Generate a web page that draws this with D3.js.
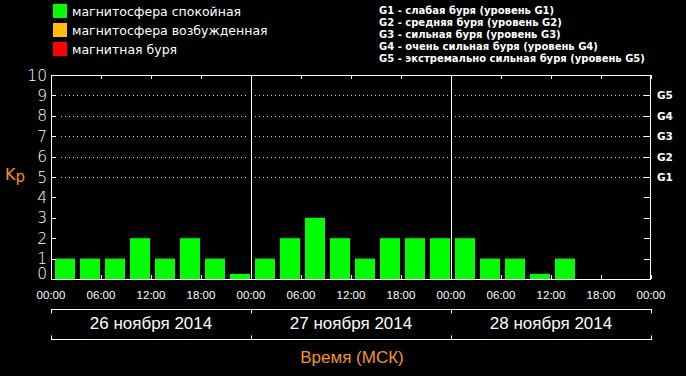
<!DOCTYPE html>
<html><head><meta charset="utf-8">
<script src="https://cdn.jsdelivr.net/npm/d3@7"></script>
<style>
html,body{margin:0;padding:0;background:#000;}
svg{display:block;}
</style></head>
<body>
<svg id="c" width="686" height="376"></svg>
<script>
// ---- data ----
const days = ["26 ноября 2014", "27 ноября 2014", "28 ноября 2014"];
const kpDay1 = [1, 1, 1, 2, 1, 2, 1, 0.25];
const kpDay2 = [1, 2, 3, 2, 1, 2, 2, 2];
const kpDay3 = [2, 1, 1, 0.25, 1];
const hourTicks = ["00:00","06:00","12:00","18:00","00:00","06:00","12:00","18:00","00:00","06:00","12:00","18:00","00:00"];
const yTicks = [0,1,2,3,4,5,6,7,8,9,10];
const gLevels = ["G1","G2","G3","G4","G5"];
const gLevelValues = [5,6,7,8,9];
const legendItems = ["магнитосфера спокойная","магнитосфера возбужденная","магнитная буря"];
const legendColors = ["#00ff00","#ffbf00","#ff0000"];
const gLegend = [
  "G1 - слабая буря (уровень G1)",
  "G2 - средняя буря (уровень G2)",
  "G3 - сильная буря (уровень G3)",
  "G4 - очень сильная буря (уровень G4)",
  "G5 - экстремально сильная буря (уровень G5)"
];

const kp = [...kpDay1, ...kpDay2, ...kpDay3];
const svg = d3.select("#c");
const L = 51, R = 651, T = 75, B = 279;
const x = d3.scaleLinear().domain([0, 72]).range([L, R]);
const y = d3.scaleLinear().domain([0, 10]).range([B, T]);
const orange = "#f7941d";

// legend
const lg = svg.append("g");
legendItems.forEach((t, i) => {
  lg.append("rect").attr("x", 53).attr("y", 4 + i * 19).attr("width", 14).attr("height", 14).attr("fill", legendColors[i]);
  lg.append("text").attr("x", 72).attr("y", 16 + i * 19).attr("fill", "#fff")
    .attr("font-family", "DejaVu Sans").attr("font-size", 12.5).text(t);
});
gLegend.forEach((t, i) => {
  svg.append("text").attr("x", 379).attr("y", 14 + i * 12).attr("fill", "#fff")
    .attr("font-family", "DejaVu Sans").attr("font-weight", "bold").attr("font-size", 10).text(t);
});

// gridlines (dotted), broken around separators
const seps = [24, 48];
const segs = [[L + 10, x(24) - 3], [x(24) + 4, x(48) - 3], [x(48) + 4, R]];
gLevelValues.forEach(v => {
  segs.forEach(s => {
    svg.append("line").attr("x1", s[0]).attr("x2", s[1]).attr("y1", Math.round(y(v)) + 0.5).attr("y2", Math.round(y(v)) + 0.5)
      .attr("stroke", "#ccc").attr("stroke-width", 1).attr("stroke-dasharray", "1,3");
  });
});

// bars
svg.append("g").selectAll("rect").data(kp).join("rect")
  .attr("x", (d, i) => x(i * 3) + 4)
  .attr("width", (d, i) => x(i * 3 + 3) - x(i * 3) - 5)
  .attr("y", d => y(d))
  .attr("height", d => y(0) - y(d))
  .attr("fill", "#00ff00");

// frame
svg.append("rect").attr("x", L + 0.5).attr("y", T + 0.5).attr("width", R - L - 1).attr("height", B - T)
  .attr("fill", "none").attr("stroke", "#fff").attr("stroke-width", 1);
seps.forEach(h => {
  svg.append("line").attr("x1", Math.round(x(h)) + 0.5).attr("x2", Math.round(x(h)) + 0.5).attr("y1", T).attr("y2", B)
    .attr("stroke", "#fff");
});

// top & bottom ticks
d3.range(0, 73, 6).forEach(h => {
  const xx = Math.round(x(h)) + 0.5;
  svg.append("line").attr("x1", xx).attr("x2", xx).attr("y1", T).attr("y2", T + 4).attr("stroke", "#fff");
  svg.append("line").attr("x1", xx).attr("x2", xx).attr("y1", B).attr("y2", B - 4).attr("stroke", "#fff");
});
// left & right ticks
d3.range(1, 10).forEach(v => {
  const yy = Math.round(y(v)) + 0.5;
  svg.append("line").attr("x1", R - 7).attr("x2", R).attr("y1", yy).attr("y2", yy).attr("stroke", "#fff");
  svg.append("line").attr("x1", L).attr("x2", L + 5).attr("y1", yy).attr("y2", yy).attr("stroke", "#fff");
});

// y tick labels
yTicks.forEach(v => {
  svg.append("text").attr("x", 47).attr("y", Math.min(y(v), B - 6)).attr("dy", "0.36em")
    .attr("text-anchor", "end").attr("fill", "#fff")
    .attr("font-family", "DejaVu Sans").attr("font-weight", 300).attr("font-size", 15.5).text(v);
});
// G labels
gLevels.forEach((g, i) => {
  svg.append("text").attr("x", 657).attr("y", y(gLevelValues[i])).attr("dy", "0.38em").attr("fill", "#fff")
    .attr("font-family", "DejaVu Sans").attr("font-weight", "bold").attr("font-size", 10.5).text(g);
});

// Kp label
const kt = svg.append("text").attr("x", 5).attr("y", 180).attr("fill", orange)
  .attr("font-family", "DejaVu Sans").attr("font-size", 16);
kt.append("tspan").text("K");
kt.append("tspan").attr("font-size", 15).attr("dy", 2).text("p");

// bottom hour labels
const hx = d3.scaleLinear().domain([0, hourTicks.length - 1]).range([L, R]);
hourTicks.forEach((t, i) => {
  svg.append("text").attr("x", hx(i)).attr("y", 299).attr("text-anchor", "middle").attr("fill", "#fff")
    .attr("font-family", "Liberation Sans Narrow, Liberation Sans").attr("font-stretch", "condensed")
    .attr("font-size", 11.5).text(t);
});

// day brackets
[309.5, 339.5].forEach((yy, k) => {
  svg.append("line").attr("x1", L).attr("x2", R + 1).attr("y1", yy).attr("y2", yy).attr("stroke", "#fff");
  [0, 24, 48, 72].forEach(h => {
    const xx = Math.round(x(h)) + 0.5;
    svg.append("line").attr("x1", xx).attr("x2", xx).attr("y1", yy).attr("y2", k === 0 ? yy + 4 : yy - 4).attr("stroke", "#fff");
  });
});
days.forEach((d, i) => {
  svg.append("text").attr("x", x(i * 24 + 12)).attr("y", 329).attr("text-anchor", "middle").attr("fill", "#fff")
    .attr("font-family", "Liberation Sans Narrow, Liberation Sans").attr("font-stretch", "condensed")
    .attr("font-size", 17).text(d);
});
svg.append("text").attr("x", 352).attr("y", 363).attr("text-anchor", "middle").attr("fill", orange)
  .attr("font-family", "Liberation Sans Narrow, Liberation Sans").attr("font-stretch", "condensed")
  .attr("font-size", 17).text("Время (МСК)");
</script>
</body></html>
